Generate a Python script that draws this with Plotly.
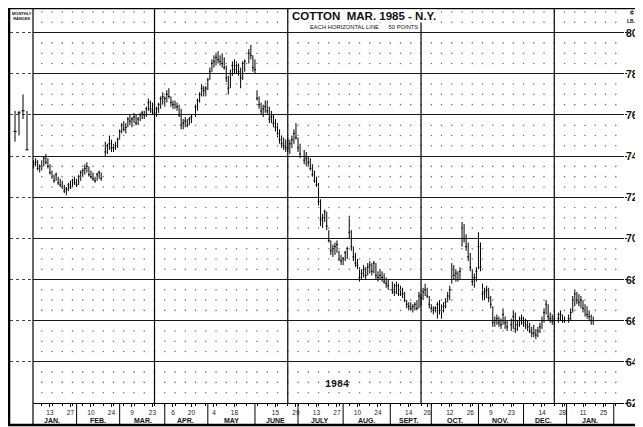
import numpy as np
import pandas as pd
import plotly.graph_objects as go

# ---------------- data (cents per lb) ----------------
HOLIDAYS = ["1984-02-20", "1984-04-20", "1984-05-28", "1984-07-04", "1984-09-03",
            "1984-11-22", "1984-12-25", "1985-01-01"]

HIGH = [
    73.8, 73.9, 73.8, 73.6,
    73.8, 74.0, 74.1, 73.9, 73.6,
    73.3, 73.1, 73.2, 73.0, 72.9,
    72.8, 72.6, 72.5, 72.7, 72.8,
    72.9, 73.0, 72.9, 73.1, 73.3,
    73.4, 73.6, 73.7, 73.5, 73.3,
    73.2, 73.0, 73.2, 73.3, 73.2,
    74.7, 74.6, 75.0, 74.8,
    74.6, 74.7, 74.9, 75.3, 75.6,
    75.7, 75.6, 75.9, 76.0, 75.9,
    76.1, 76.0, 75.9, 76.1, 76.2,
    76.2, 76.4, 76.8, 76.7, 76.6,
    76.5, 76.4, 76.6, 76.9, 77.1,
    76.9, 77.2, 77.3, 76.9, 76.7,
    76.7, 76.6, 76.5, 76.3, 75.8,
    75.9, 75.8, 75.9, 76.0,
    76.5, 76.8, 77.1, 77.5, 77.4,
    77.4, 77.8, 78.3, 78.7, 78.9,
    79.0, 79.1, 78.9, 79.0, 78.8,
    78.4, 77.9, 78.2, 78.6, 78.7,
    78.6, 78.5, 78.3, 78.6, 78.7,
    79.2, 79.4, 78.9, 78.7,
    77.2, 76.9, 76.6, 76.5, 76.7,
    76.7, 76.4, 76.2, 76.0, 75.8,
    75.6, 75.3, 75.0, 74.9, 74.8,
    74.9, 74.8, 75.0, 75.3, 75.6,
    74.9, 74.6, 74.3, 74.2,
    74.0, 73.9, 73.6, 73.3, 73.0,
    72.7, 71.9, 71.2, 71.4, 71.3,
    70.4, 69.9, 69.7, 69.8, 69.9,
    69.4, 69.2, 69.1, 69.4, 69.6,
    71.1, 70.4, 69.6, 69.3, 69.0,
    68.6, 68.5, 68.7, 68.6, 68.8,
    68.9, 68.8, 68.9, 68.8, 68.4,
    68.5, 68.4, 68.3, 68.1, 68.0,
    67.9, 67.8, 67.9, 67.8,
    67.7, 67.6, 67.4, 67.0, 66.9,
    66.9, 66.8, 66.9, 67.0, 67.4,
    67.3, 67.6, 67.8, 67.6, 67.2,
    66.8, 66.7, 66.7, 66.9, 67.0,
    66.8, 66.9, 67.1, 67.4, 67.7,
    68.8, 68.7, 68.5, 68.4, 68.6,
    70.8, 70.7, 70.2, 69.8, 69.3,
    68.5, 68.3, 68.6, 70.3, 69.8,
    67.8, 67.6, 67.7, 67.6, 67.2,
    66.7, 66.2, 66.3, 66.2, 66.1,
    66.6, 66.2, 66.0, 66.1,
    66.5, 66.4, 66.0, 66.2, 66.3,
    66.2, 66.1, 66.0, 65.9, 65.7,
    65.8, 65.6, 65.7, 65.9, 66.2,
    66.6, 67.0, 66.8, 66.4, 66.3,
    66.2, 66.4, 66.5, 66.3,
    66.2, 66.3, 66.6, 67.2,
    67.5, 67.4, 67.3, 67.2, 67.0,
    66.8, 66.7, 66.5, 66.3, 66.2,
]

LOW = [
    73.4, 73.5, 73.3, 73.2,
    73.3, 73.5, 73.6, 73.4, 73.1,
    72.9, 72.7, 72.8, 72.6, 72.5,
    72.4, 72.2, 72.1, 72.3, 72.4,
    72.5, 72.6, 72.5, 72.6, 72.8,
    73.0, 73.1, 73.2, 73.0, 72.9,
    72.8, 72.7, 72.8, 72.9, 72.8,
    74.0, 74.1, 74.3, 74.2,
    74.2, 74.3, 74.4, 74.8, 75.1,
    75.2, 75.1, 75.4, 75.5, 75.4,
    75.6, 75.5, 75.5, 75.7, 75.8,
    75.8, 75.9, 76.2, 76.1, 76.0,
    75.9, 75.9, 76.1, 76.3, 76.5,
    76.4, 76.6, 76.8, 76.4, 76.3,
    76.3, 76.2, 75.9, 75.3, 75.3,
    75.4, 75.4, 75.5, 75.6,
    75.9, 76.2, 76.6, 76.9, 76.9,
    76.9, 77.2, 77.7, 78.1, 78.3,
    78.4, 78.5, 78.4, 78.3, 78.2,
    77.6, 77.0, 77.3, 77.9, 78.0,
    78.0, 77.9, 77.3, 77.7, 78.1,
    78.5, 78.7, 78.1, 78.0,
    76.7, 76.3, 76.0, 75.9, 76.1,
    76.0, 75.6, 75.6, 75.4, 75.2,
    74.9, 74.6, 74.4, 74.3, 74.2,
    74.2, 74.1, 74.4, 74.6, 74.8,
    74.2, 73.9, 73.6, 73.5,
    73.5, 73.3, 73.0, 72.7, 72.5,
    71.6, 70.6, 70.5, 70.8, 70.4,
    69.8, 69.2, 69.1, 69.2, 69.3,
    68.9, 68.7, 68.7, 68.9, 69.0,
    70.0, 69.4, 68.9, 68.6, 68.5,
    67.9, 68.0, 68.1, 68.0, 68.2,
    68.3, 68.2, 68.3, 68.0, 67.9,
    68.0, 67.9, 67.8, 67.6, 67.5,
    67.3, 67.2, 67.3, 67.2,
    67.2, 67.1, 66.9, 66.6, 66.5,
    66.5, 66.4, 66.5, 66.5, 66.6,
    66.7, 67.0, 67.2, 67.1, 66.6,
    66.4, 66.3, 66.4, 66.1, 66.3,
    66.1, 66.4, 66.6, 66.9, 67.0,
    67.8, 68.0, 67.9, 67.9, 68.0,
    69.6, 69.8, 69.4, 68.9, 68.4,
    67.7, 67.6, 67.9, 68.5, 68.4,
    67.0, 67.0, 67.1, 66.9, 66.6,
    65.7, 65.7, 65.8, 65.7, 65.6,
    65.8, 65.6, 65.5, 65.5,
    65.6, 65.4, 65.5, 65.7, 65.8,
    65.7, 65.6, 65.5, 65.4, 65.2,
    65.2, 65.1, 65.2, 65.4, 65.6,
    65.9, 66.3, 66.0, 65.9, 65.8,
    65.8, 65.9, 66.0, 65.9,
    65.9, 65.9, 66.0, 66.4,
    66.7, 66.8, 66.7, 66.6, 66.4,
    66.2, 66.1, 66.0, 65.8, 65.8,
]

CLOSE = [
    73.6, 73.7, 73.4, 73.5,
    73.5, 73.9, 73.7, 73.5, 73.2,
    73.0, 72.8, 73.1, 72.7, 72.6,
    72.5, 72.3, 72.4, 72.6, 72.5,
    72.8, 72.7, 72.6, 73.0, 73.2,
    73.3, 73.4, 73.5, 73.1, 73.0,
    72.9, 72.8, 73.1, 73.2, 72.9,
    74.2, 74.5, 74.6, 74.4,
    74.4, 74.5, 74.8, 75.2, 75.5,
    75.3, 75.4, 75.8, 75.7, 75.8,
    75.9, 75.6, 75.8, 76.0, 76.1,
    76.0, 76.3, 76.6, 76.3, 76.2,
    76.1, 76.3, 76.5, 76.8, 76.9,
    76.8, 77.0, 76.9, 76.6, 76.5,
    76.5, 76.4, 76.0, 75.5, 75.6,
    75.7, 75.5, 75.8, 75.9,
    76.4, 76.7, 77.0, 77.3, 77.2,
    77.3, 77.7, 78.1, 78.5, 78.6,
    78.8, 78.7, 78.6, 78.5, 78.3,
    77.8, 77.3, 78.0, 78.4, 78.2,
    78.4, 78.1, 77.8, 78.5, 78.6,
    79.0, 78.9, 78.3, 78.2,
    76.8, 76.5, 76.2, 76.3, 76.4,
    76.2, 75.8, 75.9, 75.6, 75.4,
    75.1, 74.8, 74.6, 74.5, 74.4,
    74.4, 74.6, 74.8, 75.1, 74.9,
    74.4, 74.1, 73.8, 73.9,
    73.7, 73.4, 73.1, 72.8, 72.6,
    71.8, 70.9, 71.0, 71.3, 70.6,
    69.9, 69.4, 69.5, 69.6, 69.7,
    69.0, 68.9, 69.0, 69.3, 69.5,
    70.3, 69.6, 69.1, 68.8, 68.7,
    68.1, 68.3, 68.5, 68.2, 68.6,
    68.7, 68.4, 68.8, 68.2, 68.1,
    68.2, 68.1, 67.9, 67.8, 67.7,
    67.5, 67.4, 67.7, 67.3,
    67.5, 67.3, 67.0, 66.8, 66.7,
    66.6, 66.7, 66.8, 66.6, 67.2,
    67.1, 67.4, 67.5, 67.2, 66.8,
    66.6, 66.5, 66.6, 66.8, 66.5,
    66.5, 66.7, 66.9, 67.2, 67.5,
    68.5, 68.2, 68.3, 68.0, 68.4,
    70.5, 70.0, 69.6, 69.1, 68.6,
    67.9, 68.1, 68.4, 69.6, 68.6,
    67.3, 67.4, 67.5, 67.1, 66.8,
    65.9, 66.0, 66.1, 65.9, 65.8,
    66.3, 65.9, 65.7, 65.8,
    66.2, 65.6, 65.8, 66.0, 66.1,
    65.9, 65.8, 65.7, 65.5, 65.4,
    65.4, 65.3, 65.5, 65.7, 66.0,
    66.4, 66.8, 66.2, 66.1, 66.0,
    66.0, 66.1, 66.3, 66.0,
    66.0, 66.1, 66.4, 67.0,
    67.3, 67.0, 66.9, 67.0, 66.6,
    66.5, 66.3, 66.2, 66.0, 66.0,
]

# monthly ranges (left panel)
MONTHLY_POS = [1, 2, 3, 4]
MONTHLY_HIGH = [76.2, 76.2, 77.0, 76.2]
MONTHLY_LOW = [74.7, 75.0, 75.8, 74.3]
MONTHLY_CLOSE = [75.2, 76.1, 76.2, 74.3]

# axis labels
TICK_DATES = ["1984-01-13", "1984-01-27", "1984-02-10", "1984-02-24", "1984-03-09",
              "1984-03-23", "1984-04-06", "1984-04-19", "1984-05-04", "1984-05-18",
              "1984-06-15", "1984-06-29", "1984-07-13", "1984-07-27", "1984-08-10",
              "1984-08-24", "1984-09-14", "1984-09-27", "1984-10-12", "1984-10-26",
              "1984-11-09", "1984-11-23", "1984-12-14", "1984-12-28", "1985-01-11",
              "1985-01-25"]
TICK_TEXT = ["13", "27", "10", "24", "9", "23", "6", "20", "4", "18", "15", "29", "13",
             "27", "10", "24", "14", "26", "12", "26", "9", "23", "14", "28", "11", "25"]
MONTH_NAMES = ["JAN.", "FEB.", "MAR.", "APR.", "MAY", "JUNE", "JULY", "AUG.", "SEPT.",
               "OCT.", "NOV.", "DEC.", "JAN."]
Y_TICKS = [62, 64, 66, 68, 70, 72, 74, 76, 78, 80]
QUARTER_LINES = ["1984-03-26", "1984-06-25", "1984-09-24", "1984-12-24"]

# ---------------- build ----------------
dates = [d for d in pd.bdate_range("1984-01-03", "1985-01-18")
         if d.strftime("%Y-%m-%d") not in HOLIDAYS]
n = min(len(dates), len(HIGH), len(LOW), len(CLOSE))
dates, HIGH, LOW, CLOSE = dates[:n], HIGH[:n], LOW[:n], CLOSE[:n]


def to_weekday(ts):
    ts = pd.Timestamp(ts)
    while ts.weekday() >= 5:
        ts += pd.Timedelta(days=1)
    return ts


month_starts = [pd.Timestamp(1984, 1, 1) + pd.DateOffset(months=i) for i in range(14)]
month_mids = []
for a, b in zip(month_starts[:-1], month_starts[1:]):
    m = a + (b - a) / 2
    while m.weekday() >= 5:
        m -= pd.Timedelta(days=1)
    month_mids.append(m)
month_mids[0] = pd.Timestamp("1984-01-16")

# weekly grid dots
week_cols = pd.date_range("1984-01-09", "1985-02-04", freq="7D")
dot_rows = [v for v in np.arange(62.5, 81.01, 0.5) if v % 2 != 0]
gx, gy = np.meshgrid(week_cols, dot_rows)

SANS = "Liberation Sans, Arial, sans-serif"

fig = go.Figure()
fig.add_trace(go.Scatter(x=gx.ravel(), y=gy.ravel(), mode="markers",
                         marker=dict(size=1.6, color="#777"), hoverinfo="skip",
                         xaxis="x", yaxis="y"))
fig.add_trace(go.Ohlc(x=dates, open=CLOSE, high=HIGH, low=LOW, close=CLOSE,
                      tickwidth=0.45,
                      increasing=dict(line=dict(color="black", width=1)),
                      decreasing=dict(line=dict(color="black", width=1)),
                      xaxis="x", yaxis="y"))
fig.add_trace(go.Ohlc(x=MONTHLY_POS, open=MONTHLY_CLOSE, high=MONTHLY_HIGH,
                      low=MONTHLY_LOW, close=MONTHLY_CLOSE, tickwidth=0.4,
                      increasing=dict(line=dict(color="black", width=1)),
                      decreasing=dict(line=dict(color="black", width=1)),
                      xaxis="x2", yaxis="y2"))

shapes = []
band_bottom = -0.056
# outer frame
shapes.append(dict(type="rect", xref="paper", yref="paper", x0=-0.0016, x1=1.026,
                   y0=band_bottom, y1=1.005, line=dict(color="black", width=2.5)))
# left edge of main chart
shapes.append(dict(type="line", xref="x domain", yref="paper", x0=0, x1=0,
                   y0=band_bottom, y1=1.005, line=dict(color="black", width=1.2)))
# quarter lines
for q in QUARTER_LINES:
    shapes.append(dict(type="line", xref="x", yref="paper", x0=q, x1=q, y0=0, y1=1.005,
                       line=dict(color="black", width=1.2)))
# month separators in the bottom band
for ms in month_starts[1:]:
    t = to_weekday(ms)
    shapes.append(dict(type="line", xref="x", yref="paper", x0=t, x1=t,
                       y0=band_bottom, y1=0, line=dict(color="black", width=1)))

annotations = []
# price labels on the right edge
for v in Y_TICKS:
    annotations.append(dict(x=1.003, y=v, xref="paper", yref="y", text="<b>%d</b>" % v,
                            showarrow=False, xanchor="left", yanchor="middle",
                            font=dict(size=10.5, family=SANS, color="#111"),
                            borderpad=0, borderwidth=0))
for name, m in zip(MONTH_NAMES, month_mids):
    annotations.append(dict(x=m, y=-0.044, xref="x", yref="paper", text="<b>%s</b>" % name,
                            showarrow=False, font=dict(size=7, family=SANS, color="#111"),
                            xanchor="center", yanchor="middle"))
annotations += [
    dict(x=0.5765, y=0.985, xref="paper", yref="paper",
         text="<b>COTTON  MAR. 1985 - N.Y.</b>", showarrow=False, bgcolor="white",
         font=dict(size=11.5, family=SANS, color="#111"), xanchor="center",
         yanchor="middle", borderpad=0),
    dict(x=0.5765, y=0.957, xref="paper", yref="paper",
         text="EACH HORIZONTAL LINE      50 POINTS", showarrow=False, bgcolor="white",
         font=dict(size=5.8, family=SANS, color="#111"),
         xanchor="center", yanchor="middle", borderpad=0),
    dict(x=0.0195, y=0.986, xref="paper", yref="paper",
         text="<b>MONTHLY<br>RANGES</b>", showarrow=False,
         font=dict(size=4, family=SANS, color="#111"),
         xanchor="center", yanchor="middle"),
    dict(x=1.013, y=0.993, xref="paper", yref="paper", text="<b>¢</b>", showarrow=False,
         font=dict(size=7, family=SANS, color="#111"),
         xanchor="center", yanchor="middle"),
    dict(x=1.013, y=0.972, xref="paper", yref="paper", text="<b>LB.</b>", showarrow=False,
         font=dict(size=5, family=SANS, color="#111"),
         xanchor="center", yanchor="middle"),
    dict(x=0.5326, y=0.046, xref="paper", yref="paper", text="<b>1984</b>", showarrow=False,
         font=dict(size=10, family="Liberation Mono, DejaVu Sans Mono, monospace", color="#111"),
         xanchor="center", yanchor="middle"),
]

# page body adds an 8px margin, so the figure is drawn 8px smaller
fig.update_layout(
    width=635, height=419,
    margin=dict(l=2, r=19, t=2, b=24),
    paper_bgcolor="white", plot_bgcolor="white",
    showlegend=False,
    xaxis=dict(domain=[0.03746, 1], type="date", anchor="y", automargin=False,
               range=["1984-01-02 17:30", "1985-02-08 00:00"],
               rangebreaks=[dict(bounds=["sat", "mon"])],
               rangeslider=dict(visible=False),
               tickmode="array", tickvals=TICK_DATES, ticktext=TICK_TEXT,
               ticks="outside", ticklen=3, tickcolor="black", tickwidth=1,
               tickfont=dict(size=6.5, family=SANS, color="#222"),
               showgrid=False, zeroline=False,
               showline=True, linecolor="black", linewidth=1,
               minor=dict(ticks="outside", ticklen=2, tickcolor="black",
                          tick0="1984-01-02", dtick=7 * 86400000, showgrid=False)),
    yaxis=dict(range=[62, 81.1], side="right", anchor="x", automargin=False,
               tickmode="array", tickvals=Y_TICKS, showticklabels=False,
               ticks="outside", ticklen=2, tickcolor="black",
               showgrid=True, gridcolor="#1a1a1a", gridwidth=1, zeroline=False,
               showline=False),
    xaxis2=dict(domain=[0, 0.03746], range=[-0.25, 5.5], anchor="y2", automargin=False,
                showticklabels=False, ticks="", showgrid=False, zeroline=False,
                rangeslider=dict(visible=False)),
    yaxis2=dict(range=[62, 81.1], anchor="x2", showticklabels=False, ticks="",
                automargin=False,
                tickmode="array", tickvals=Y_TICKS, showgrid=True, griddash="dot",
                gridcolor="#444", zeroline=False),
    shapes=shapes,
    annotations=annotations,
)

fig.write_html("out.html")
